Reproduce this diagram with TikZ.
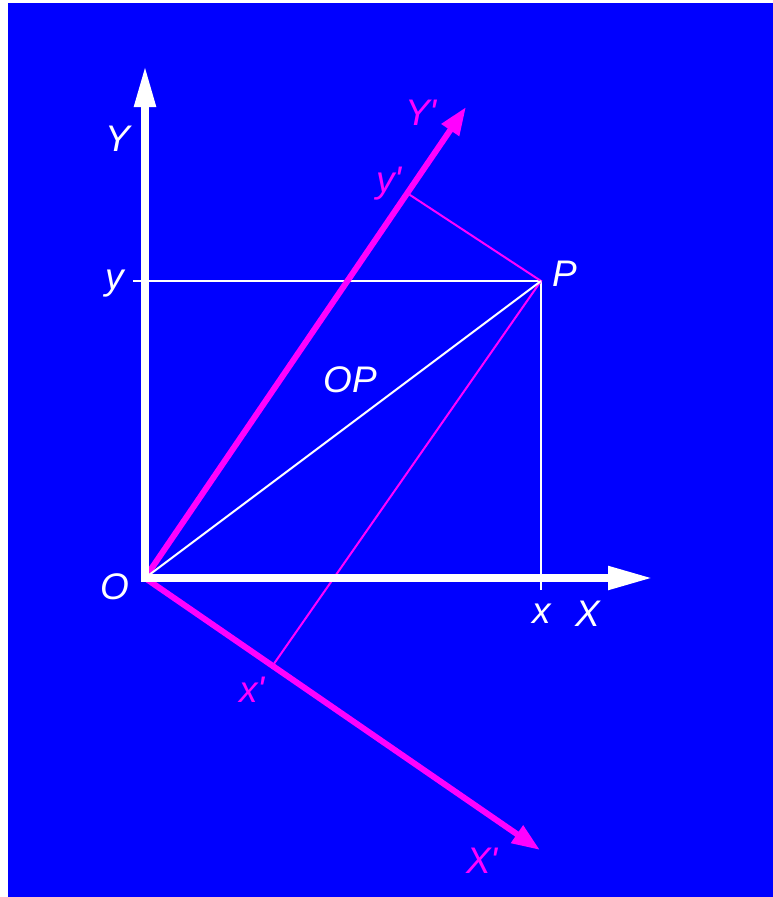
\documentclass[tikz,border=0pt]{standalone}
\usepackage{fontspec}
\newfontfamily\lblfont{Liberation Sans}
\usetikzlibrary{arrows.meta}
\definecolor{bg}{HTML}{0000FF}
\definecolor{mag}{HTML}{FF00FF}
\begin{document}
\begin{tikzpicture}[x=1pt,y=-1pt,
  lbl/.style={font=\lblfont\itshape\fontsize{37}{37}\selectfont, inner sep=0pt, text=white},
  mlbl/.style={lbl, text=mag},
  thinw/.style={white, line width=2pt},
  thinm/.style={mag, line width=2pt},
  axisw/.style={white, line width=8pt, line join=miter},
  axism/.style={mag, line width=6pt, -{Triangle[length=28pt,width=20pt]}}]
\useasboundingbox (0,0) rectangle (773,897);
\fill[white] (0,0) rectangle (773,897);
\fill[bg] (8,3) rectangle (773,897);
\coordinate (O) at (145,578);
\coordinate (P) at (541,281);
\coordinate (Ytip) at (145,65);
\coordinate (Xtip) at (653,578);
\coordinate (Ypt) at (466,107);
\coordinate (Xpt) at (540,850);
\coordinate (yp) at (407,193);
\coordinate (xp) at (271,668);
\coordinate (ytick) at (133,281);
\coordinate (xtick) at (541,590);
% thin projection lines
\draw[thinw] (ytick) -- (P) -- (xtick);
\draw[thinm] (yp) -- (P) -- (xp);
% rotated axes
\draw[axism] (O) -- (Ypt);
\draw[axism] (O) -- (Xpt);
% OP
\draw[thinw] (O) -- (P);
% main axes
\draw[axisw, {Triangle[length=42pt,width=20pt]}-{Triangle[length=45pt,width=22pt]}] (Ytip) -- (O) -- (Xtip);
% labels
\node[lbl] (lY) at (118,139) {Y};
\node[lbl] (ly) at (115,284) {y};
\node[lbl] (lO) at (115,587) {O};
\node[lbl] (lOP) at (350,380) {OP};
\node[lbl] (lP) at (565,274) {P};
\node[lbl] (lx) at (542,614) {x};
\node[lbl] (lX) at (588,614) {X};
\node[mlbl] (lYp) at (421,113) {Y'};
\node[mlbl] (lyp) at (389,184) {y'};
\node[mlbl] (lxp) at (252,690) {x'};
\node[mlbl] (lXp) at (482,861) {X'};
\end{tikzpicture}
\end{document}
